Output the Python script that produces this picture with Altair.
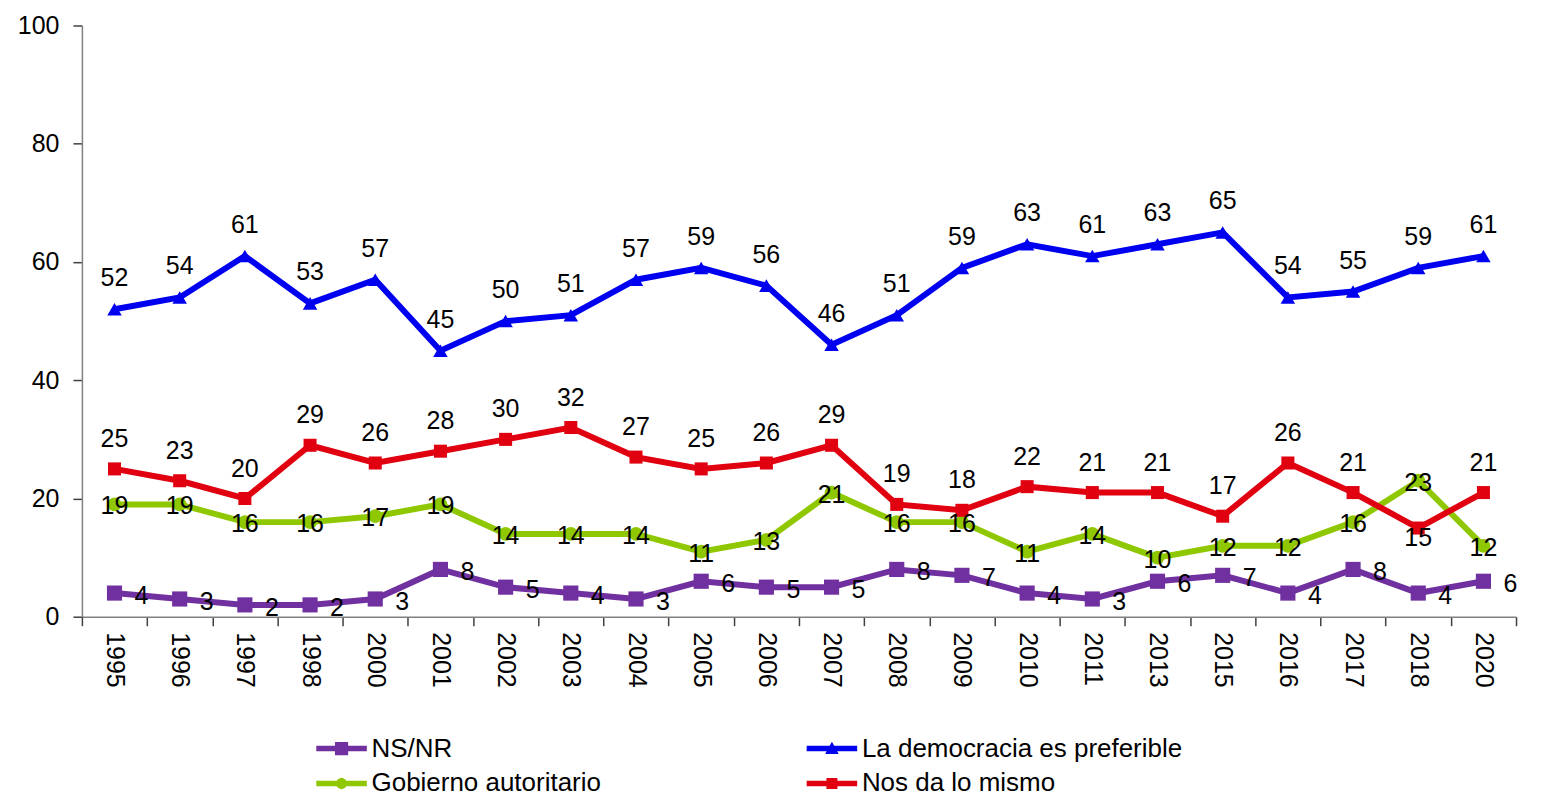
import altair as alt
import pandas as pd

years = ["1995", "1996", "1997", "1998", "2000", "2001", "2002", "2003", "2004", "2005", "2006",
         "2007", "2008", "2009", "2010", "2011", "2013", "2015", "2016", "2017", "2018", "2020"]
democracia = [52, 54, 61, 53, 57, 45, 50, 51, 57, 59, 56, 46, 51, 59, 63, 61, 63, 65, 54, 55, 59, 61]
nos_da = [25, 23, 20, 29, 26, 28, 30, 32, 27, 25, 26, 29, 19, 18, 22, 21, 21, 17, 26, 21, 15, 21]
autoritario = [19, 19, 16, 16, 17, 19, 14, 14, 14, 11, 13, 21, 16, 16, 11, 14, 10, 12, 12, 16, 23, 12]
nsnr = [4, 3, 2, 2, 3, 8, 5, 4, 3, 6, 5, 5, 8, 7, 4, 3, 6, 7, 4, 8, 4, 6]

series_names = ["NS/NR", "La democracia es preferible", "Gobierno autoritario", "Nos da lo mismo"]
series_values = [nsnr, democracia, autoritario, nos_da]
colors = ["#7030A0", "#0000F0", "#8FC800", "#E00010"]

# legend entry order (filled column by column)
legend_order = ["NS/NR", "Gobierno autoritario", "La democracia es preferible", "Nos da lo mismo"]

rows = []
for name, vals in zip(series_names, series_values):
    for y, v in zip(years, vals):
        rows.append({"year": y, "value": v, "series": name, "leg": name})
df = pd.DataFrame(rows)

FONT = "Liberation Sans"

x_enc = alt.X("year:O", sort=years,
              scale=alt.Scale(type="band", paddingInner=0, paddingOuter=0),
              axis=alt.Axis(title=None, labelAngle=90, labelAlign="left", labelBaseline="middle",
                            tickBand="extent", tickSize=9, labelPadding=6, labelFontSize=25,
                            labelFont=FONT, labelColor="black", domainColor="#808080",
                            tickColor="#404040", domainWidth=1.5, tickWidth=1.5))
y_enc = alt.Y("value:Q", scale=alt.Scale(domain=[0, 100], nice=False),
              axis=alt.Axis(title=None, values=[0, 20, 40, 60, 80, 100], grid=False,
                            tickSize=9, labelPadding=14, labelFontSize=25, labelFont=FONT,
                            labelColor="black", domainColor="#808080", tickColor="#404040",
                            domainWidth=1.5, tickWidth=1.5))

color_scale = alt.Scale(domain=series_names, range=colors)

base = alt.Chart(df)

lines = base.mark_line(strokeWidth=6, strokeJoin="miter").encode(
    x=x_enc, y=y_enc,
    color=alt.Color("series:N", scale=color_scale, legend=None),
    detail="series:N",
    order=alt.Order("year:O"),
)

points = base.mark_point(filled=True, opacity=1).encode(
    x=x_enc, y=y_enc,
    color=alt.Color("series:N", scale=color_scale, legend=None),
    shape=alt.Shape("series:N", scale=alt.Scale(domain=series_names,
                    range=["square", "triangle-up", "circle", "square"]), legend=None),
    size=alt.Size("series:N", scale=alt.Scale(domain=series_names,
                  range=[230, 170, 90, 140]), legend=None),
)

# Legend layer (invisible marks, legend symbols drawn as line + marker)
path_by_series = {
    "NS/NR": "M-2.3,-0.25 L2.3,-0.25 L2.3,0.25 L-2.3,0.25 Z M-0.6,-0.6 L0.6,-0.6 L0.6,0.6 L-0.6,0.6 Z",
    "La democracia es preferible": "M-2.3,-0.25 L2.3,-0.25 L2.3,0.25 L-2.3,0.25 Z M0,-0.62 L0.62,0.5 L-0.62,0.5 Z",
    "Gobierno autoritario": "M-2.3,-0.25 L2.3,-0.25 L2.3,0.25 L-2.3,0.25 Z M-0.5,0 A0.5,0.5 0 1,1 0.5,0 A0.5,0.5 0 1,1 -0.5,0 Z",
    "Nos da lo mismo": "M-2.3,-0.25 L2.3,-0.25 L2.3,0.25 L-2.3,0.25 Z M-0.5,-0.5 L0.5,-0.5 L0.5,0.5 L-0.5,0.5 Z",
}
color_by_series = dict(zip(series_names, colors))
legend = alt.Legend(title=None, orient="none", legendX=247, legendY=711, columns=2,
                    columnPadding=205, rowPadding=9, labelFontSize=26, labelFont=FONT,
                    labelColor="black", labelOffset=17, labelLimit=600, symbolSize=484,
                    symbolStrokeWidth=0, symbolOpacity=1, padding=0)
legend_layer = base.mark_point(filled=True, opacity=0).encode(
    x=x_enc, y=y_enc,
    color=alt.Color("leg:N", scale=alt.Scale(domain=legend_order,
                    range=[color_by_series[s] for s in legend_order]), legend=legend,
                    sort=legend_order),
    shape=alt.Shape("leg:N", scale=alt.Scale(domain=legend_order,
                    range=[path_by_series[s] for s in legend_order]), legend=legend,
                    sort=legend_order),
)

text_style = dict(fontSize=25, font=FONT, color="black")

lab_blue = base.transform_filter(alt.datum.series == "La democracia es preferible").mark_text(
    dy=-31, **text_style).encode(x=x_enc, y=y_enc, text=alt.Text("value:Q", format=".0f"))
lab_red = base.transform_filter(
    (alt.datum.series == "Nos da lo mismo") & (alt.datum.year != "2018")).mark_text(
    dy=-30, **text_style).encode(x=x_enc, y=y_enc, text=alt.Text("value:Q", format=".0f"))
lab_red_low = base.transform_filter(
    (alt.datum.series == "Nos da lo mismo") & (alt.datum.year == "2018")).mark_text(
    dy=10, **text_style).encode(x=x_enc, y=y_enc, text=alt.Text("value:Q", format=".0f"))
lab_green = base.transform_filter(alt.datum.series == "Gobierno autoritario").mark_text(
    dy=2, **text_style).encode(x=x_enc, y=y_enc, text=alt.Text("value:Q", format=".0f"))
lab_purple = base.transform_filter(alt.datum.series == "NS/NR").mark_text(
    dx=27, dy=3, **text_style).encode(x=x_enc, y=y_enc, text=alt.Text("value:Q", format=".0f"))

chart = alt.layer(
    legend_layer, lines, points, lab_blue, lab_red, lab_red_low, lab_green, lab_purple
).resolve_scale(color="independent", shape="independent", size="independent").properties(
    width=1436, height=592,
    autosize=alt.AutoSizeParams(type="none"),
    padding={"left": 74, "top": 17, "right": 20, "bottom": 182},
).configure_view(stroke=None)

chart.save("out.html", embed_options={"renderer": "svg", "actions": False})
